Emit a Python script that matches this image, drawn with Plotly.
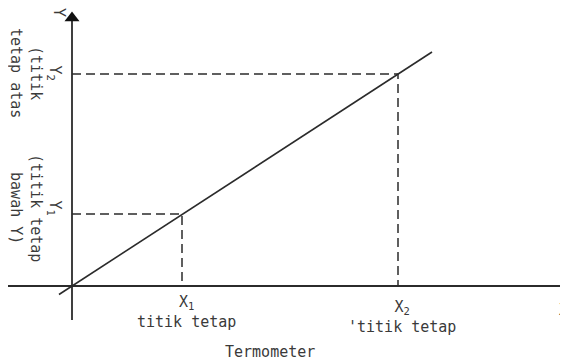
import plotly.graph_objects as go

# thermometer calibration sketch, units roughly in pixels from the origin
line_x = [-13, 360]
line_y = [-8.5, 234]
fixed_x = [110, 326]          # X1, X2
fixed_y = [72, 212]           # Y1, Y2
axis_x_ends = [-72, 490]
axis_y_ends = [-34, 268]

ink = '#2b2b2b'
text_col = '#3a3a3a'
font = dict(family='DejaVu Sans Mono', size=15, color=text_col)

fig = go.Figure()

# axes
fig.add_trace(go.Scatter(x=axis_x_ends, y=[0, 0], mode='lines',
                         line=dict(color=ink, width=1.8), hoverinfo='skip'))
fig.add_trace(go.Scatter(x=[0, 0], y=axis_y_ends, mode='lines',
                         line=dict(color=ink, width=1.8), hoverinfo='skip'))
# arrow heads
fig.add_trace(go.Scatter(x=[0], y=[axis_y_ends[1]], mode='markers',
                         marker=dict(symbol='triangle-up', size=13, color='#111'), hoverinfo='skip'))
fig.add_trace(go.Scatter(x=[axis_x_ends[1] + 3], y=[0], mode='markers',
                         marker=dict(symbol='triangle-right', size=13, color='#111'), hoverinfo='skip'))

# dashed guides
for fx, fy in zip(fixed_x, fixed_y):
    fig.add_trace(go.Scatter(x=[0, fx, fx], y=[fy, fy, 0], mode='lines',
                             line=dict(color=ink, width=1.5, dash='9px,5px'), hoverinfo='skip'))

# calibration line
fig.add_trace(go.Scatter(x=line_x, y=line_y, mode='lines',
                         line=dict(color=ink, width=1.6), hoverinfo='skip'))

labels = [
    dict(x=-13, y=274, text='Y', textangle=90),
    dict(x=-36, y=213, text='Y<sub>2</sub><br>(titik<br>tetap atas', textangle=90),
    dict(x=-36, y=78, text='Y<sub>1</sub><br>(titik tetap<br>bawah Y)', textangle=90),
    dict(x=114, y=-26, text='X<sub>1</sub><br>titik tetap', textangle=0),
    dict(x=330, y=-31, text='X<sub>2</sub><br>\'titik tetap', textangle=0),
    dict(x=491, y=-24, text='X', textangle=0),
    dict(x=198, y=-66, text='Termometer', textangle=0),
]
for lab in labels:
    fig.add_annotation(x=lab['x'], y=lab['y'], xref='x', yref='y', text=lab['text'],
                       textangle=lab['textangle'], showarrow=False, font=font, align='center')

# page body has an 8px margin, so the figure is 8px smaller than the window
fig.update_layout(
    width=560, height=355,
    margin=dict(l=0, r=0, t=0, b=0),
    paper_bgcolor='white', plot_bgcolor='white',
    showlegend=False,
    xaxis=dict(range=[-64, 496], visible=False, fixedrange=True),
    yaxis=dict(range=[-77, 278], visible=False, fixedrange=True),
)

fig.write_html("out.html")
